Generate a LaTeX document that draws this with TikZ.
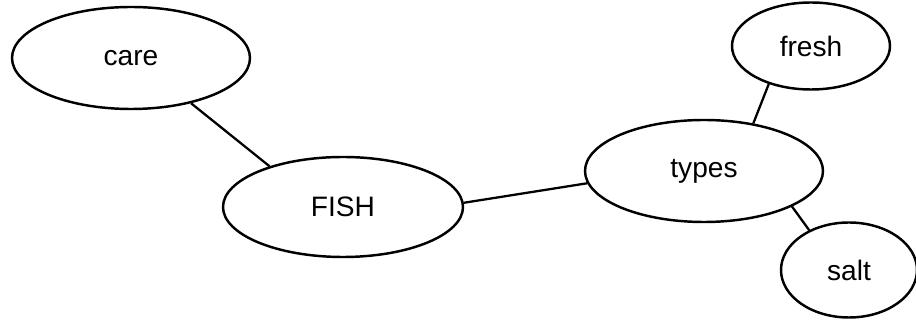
\documentclass[tikz,border=0pt]{standalone}
\usepackage{fontspec}
\setmainfont{Liberation Sans}
\usepackage{tikz}
\usetikzlibrary{shapes.geometric}

\begin{document}
\begin{tikzpicture}[
    idea/.style={ellipse, draw, line width=1.4pt, inner sep=0pt, align=center, font=\fontsize{16}{19}\selectfont},
    link/.style={line width=1.3pt}
]
    \useasboundingbox (0,0) rectangle (18.32,6.44);

    \node[idea, minimum width=4.76cm, minimum height=2.04cm] (care) at (2.62,5.28) {care};
    \node[idea, minimum width=4.80cm, minimum height=2.00cm] (fish) at (6.86,2.30) {FISH};
    \node[idea, minimum width=4.76cm, minimum height=2.04cm] (types) at (14.08,3.02) {types};
    \node[idea, minimum width=3.16cm, minimum height=1.74cm] (fresh) at (16.22,5.52) {fresh};
    \node[idea, minimum width=2.72cm, minimum height=1.90cm] (salt) at (16.98,1.04) {salt};

    \draw[link] (care.-37) -- (fish.151);
    \draw[link] (fish.2) -- (types.186);
    \draw[link] (types.44) -- (fresh.222);
    \draw[link] (types.-22) -- (salt.135);
\end{tikzpicture}
\end{document}
